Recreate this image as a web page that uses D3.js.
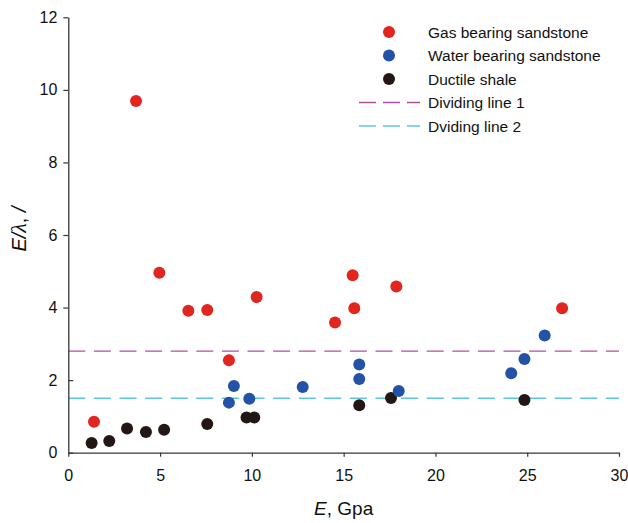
<!DOCTYPE html>
<html>
<head>
<meta charset="utf-8">
<script src="https://cdn.jsdelivr.net/npm/d3@7"></script>
<style>
  html, body { margin: 0; padding: 0; background: #fff; }
  svg { display: block; font-family: "Liberation Sans", Arial, sans-serif; }
</style>
</head>
<body>
<svg id="chart" width="628" height="523"></svg>
<script>
// Young's modulus E (GPa) and the ratio E/λ for each lithology
const gasE      = [1.40, 3.69, 4.96, 6.54, 7.57, 8.75, 10.26, 14.53, 15.49, 15.58, 17.87, 26.90];
const gasRatio  = [0.85, 9.69, 4.96, 3.91, 3.93, 2.55, 4.29, 3.59, 4.89, 3.98, 4.58, 3.98];

const waterE     = [8.75, 9.02, 9.86, 12.77, 15.85, 15.85, 18.00, 24.13, 24.85, 25.95];
const waterRatio = [1.38, 1.84, 1.49, 1.81, 2.43, 2.03, 1.70, 2.19, 2.58, 3.23];

const shaleE     = [1.27, 2.23, 3.20, 4.23, 5.22, 7.57, 9.71, 10.13, 15.85, 17.58, 24.85];
const shaleRatio = [0.27, 0.32, 0.67, 0.57, 0.63, 0.79, 0.97, 0.97, 1.31, 1.51, 1.45];

// Horizontal dividing thresholds
const dividingValues = [2.8, 1.5];
const dividingNames  = ["Dividing line 1", "Dviding line 2"];
const seriesNames    = ["Gas bearing sandstone", "Water bearing sandstone", "Ductile shale"];

const xTicks = [0, 5, 10, 15, 20, 25, 30];
const yTicks = [0, 2, 4, 6, 8, 10, 12];

const colors = { gas: "#e1251f", water: "#2452a6", shale: "#221714" };
const lineColors = ["#b14f9f", "#5cc6da"];
const axisColor = "#3b3533";

const svg = d3.select("#chart");
const plot = { left: 68.3, right: 619, top: 17.3, bottom: 452.7 };

const x = d3.scaleLinear().domain([0, 30]).range([plot.left, plot.right]);
const y = d3.scaleLinear().domain([0, 12]).range([plot.bottom, plot.top]);

// Dividing lines
svg.append("g").selectAll("line")
  .data(dividingValues)
  .join("line")
  .attr("x1", x(0)).attr("x2", x(30))
  .attr("y1", d => y(d)).attr("y2", d => y(d))
  .attr("stroke", (d, i) => lineColors[i])
  .attr("stroke-width", 1.4)
  .attr("stroke-dasharray", "17,8.6");

// X axis
const xAxis = svg.append("g")
  .attr("transform", `translate(0,${plot.bottom})`)
  .call(d3.axisBottom(x).tickValues(xTicks).tickSize(4).tickPadding(13).tickSizeOuter(0));
xAxis.select(".domain").attr("stroke", axisColor).attr("stroke-width", 1.3);
xAxis.selectAll(".tick line").attr("stroke", axisColor).attr("stroke-width", 1.2);
xAxis.selectAll(".tick text").attr("font-size", 16).attr("fill", "#111")
  .attr("font-family", "Liberation Sans, Arial, sans-serif");

// Y axis
const yAxis = svg.append("g")
  .attr("transform", `translate(${plot.left},0)`)
  .call(d3.axisLeft(y).tickValues(yTicks).tickSize(5).tickPadding(6).tickSizeOuter(0));
yAxis.select(".domain").attr("stroke", axisColor).attr("stroke-width", 1.3);
yAxis.selectAll(".tick line").attr("stroke", axisColor).attr("stroke-width", 1.2)
  .attr("x2", d => d <= 2 ? 5 : -5);
yAxis.selectAll(".tick text").attr("font-size", 16).attr("fill", "#111")
  .attr("x", -11)
  .attr("font-family", "Liberation Sans, Arial, sans-serif");

// Scatter points
function drawSeries(xs, ys, color) {
  svg.append("g").selectAll("circle")
    .data(xs.map((v, i) => [v, ys[i]]))
    .join("circle")
    .attr("cx", d => x(d[0]))
    .attr("cy", d => y(d[1]))
    .attr("r", 6)
    .attr("fill", color);
}
drawSeries(shaleE, shaleRatio, colors.shale);
drawSeries(waterE, waterRatio, colors.water);
drawSeries(gasE, gasRatio, colors.gas);

// Axis titles
const xt = svg.append("text")
  .attr("x", (plot.left + plot.right) / 2).attr("y", 515)
  .attr("text-anchor", "middle").attr("font-size", 19).attr("fill", "#111");
xt.append("tspan").attr("font-style", "italic").text("E");
xt.append("tspan").text(", Gpa");

const yt = svg.append("text")
  .attr("transform", `translate(26,${(plot.top + plot.bottom) / 2 - 6}) rotate(-90)`)
  .attr("text-anchor", "middle").attr("font-size", 20).attr("fill", "#111");
yt.append("tspan").attr("font-style", "italic").text("E");
yt.append("tspan").attr("font-style", "italic").text("/");
yt.append("tspan").attr("font-style", "italic").attr("font-family", "Liberation Serif, serif").attr("font-size", 22).text("λ");
yt.append("tspan").text(", ");
yt.append("tspan").attr("font-style", "italic").text("/");

// Legend
const legendRows = [
  { name: seriesNames[0], type: "dot", color: colors.gas },
  { name: seriesNames[1], type: "dot", color: colors.water },
  { name: seriesNames[2], type: "dot", color: colors.shale },
  { name: dividingNames[0], type: "line", color: lineColors[0] },
  { name: dividingNames[1], type: "line", color: lineColors[1] }
];
const legend = svg.append("g");
const rowY = i => 32 + i * 23.5;
legendRows.forEach((r, i) => {
  const cy = rowY(i);
  if (r.type === "dot") {
    legend.append("circle").attr("cx", 389).attr("cy", cy).attr("r", 6).attr("fill", r.color);
  } else {
    legend.append("line").attr("x1", 359).attr("x2", 420).attr("y1", cy).attr("y2", cy)
      .attr("stroke", r.color).attr("stroke-width", 1.4).attr("stroke-dasharray", "17,7");
  }
  legend.append("text").attr("x", 428).attr("y", cy).attr("dy", "0.36em")
    .attr("font-size", 15.5).attr("fill", "#111").text(r.name);
});
</script>
</body>
</html>
